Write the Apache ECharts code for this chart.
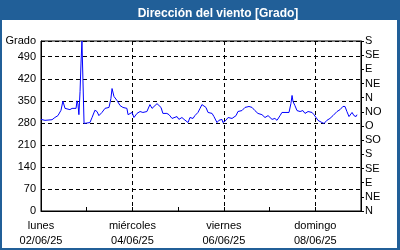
<!DOCTYPE html>
<html><head><meta charset="utf-8">
<script src="https://cdn.jsdelivr.net/npm/echarts@6/dist/echarts.min.js"></script>
<style>html,body{margin:0;padding:0;background:#fff}#c{width:400px;height:250px}</style>
</head><body><div id="c"></div>
<script>
// hours since lunes 02/06/25 00:00
const hours = [0,2.1,5.8,7.3,8.9,10.5,11.5,12.6,15.2,16.3,17.3,18.4,18.9,19.4,19.9,20.5,21,21.5,22.1,22.6,25.7,26.8,28.3,29.4,30.4,32,33.6,35.7,36.7,37.3,38.3,39.9,41.5,43,45.1,45.7,46.7,47.8,48.8,49.3,50.4,52,53.5,55.6,57.2,58.3,59.3,60.9,61.4,63,64,66.1,67.2,68.8,69.8,71.4,72.4,74,75.1,76.1,77.2,78.2,79.8,80.8,82.4,83.5,84.5,85,86.6,87.7,89.8,90.8,92.4,93.4,95,95.5,97.1,98.2,100.3,100.8,102.4,103.4,105.5,107.1,109.2,110.8,112.3,113.9,116,117.6,119.2,121.3,122.8,123.9,125.5,126.5,127,128.1,129.1,130.2,131.2,131.8,132.3,133.3,134.4,136,137.5,138.6,140.2,141.2,142.3,143.3,144.4,145.4,147.5,148.6,150.1,151.7,153.3,154.3,155.4,157,158.5,159.6,160.6,161.7,163.3,164.3,165.4,165.9];
const direction = [291,288,290,297,303,320,349,326,322,326,320,326,350,340,306,380,470,540,540,278,281,297,320,316,303,313,326,329,357,389,364,351,335,329,326,306,310,313,297,291,310,316,313,316,338,326,332,341,345,329,310,310,306,294,288,300,291,297,291,285,281,297,294,303,313,326,338,341,329,313,310,300,281,288,291,281,288,297,294,291,303,316,319,329,332,329,319,310,306,297,303,291,294,288,303,313,316,313,316,313,341,367,348,335,319,316,319,310,316,310,313,306,297,288,281,278,288,294,303,297,316,322,332,332,316,300,313,303,300,306];
const dayNames = ['lunes','martes','miércoles','jueves','viernes','sábado','domingo','lunes'];
const dayDates = ['02/06/25','03/06/25','04/06/25','05/06/25','06/06/25','07/06/25','08/06/25','09/06/25'];
const compass = ['N','NE','E','SE','S','SO','O','NO','N','NE','E','SE','S'];
const titleText = 'Dirección del viento [Grado]';
const leftAxisName = 'Grado';

const FONT = 'Liberation Sans';
const chart = echarts.init(document.getElementById('c'), null, {renderer:'canvas'});
const pts = hours.map((h,i)=>[h, direction[i]]);
chart.setOption({
  animation:false,
  backgroundColor:'#215f98',
  graphic:[{type:'rect', shape:{x:2,y:20,width:395,height:228}, style:{fill:'#ffffff'}, z:-10}],
  title:{text:titleText, left:213, top:3, textAlign:'center',
    textStyle:{color:'#fff', fontSize:12, fontWeight:'bold', fontFamily:FONT}},
  grid:{left:41, right:39, top:41, bottom:39, show:true, borderColor:'#000', borderWidth:1, backgroundColor:'#fff'},
  xAxis:{type:'value', min:0, max:168, interval:48,
    axisLine:{lineStyle:{color:'#000',width:1}},
    axisTick:{show:true, inside:true, length:4, lineStyle:{color:'#000'}},
    minorTick:{show:true, splitNumber:2, length:4, lineStyle:{color:'#000'}},
    splitLine:{show:true, lineStyle:{color:'#000', type:[4,3], width:1}},
    axisLabel:{color:'#000', fontSize:11, fontFamily:FONT, lineHeight:15, margin:7,
      formatter:function(v){ if(v>=168) return ''; const i=Math.round(v/24); return dayNames[i]+'\n'+dayDates[i]; }}
  },
  yAxis:[
    {type:'value', min:0, max:540, interval:70, position:'left',
      axisLine:{show:true, lineStyle:{color:'#000'}},
      axisTick:{show:false},
      splitLine:{show:true, lineStyle:{color:'#000', type:[4,3], width:1}},
      axisLabel:{color:'#000', fontSize:11, fontFamily:FONT, margin:5, padding:[4,0,0,0],
        formatter:function(v){ return v>=540 ? leftAxisName : String(v); }}
    },
    {type:'value', min:0, max:540, interval:45, position:'right',
      axisLine:{show:true, lineStyle:{color:'#000'}},
      axisTick:{show:true, length:3, lineStyle:{color:'#000'}},
      splitLine:{show:false},
      axisLabel:{color:'#000', fontSize:11, fontFamily:FONT, margin:4, padding:[2,0,0,0],
        formatter:function(v){ return compass[Math.round(v/45)]; }}
    }
  ],
  series:[{type:'line', data:pts, yAxisIndex:0, showSymbol:false, symbol:'none', clip:true,
    lineStyle:{color:'#0000ff', width:1}}]
});
</script></body></html>
